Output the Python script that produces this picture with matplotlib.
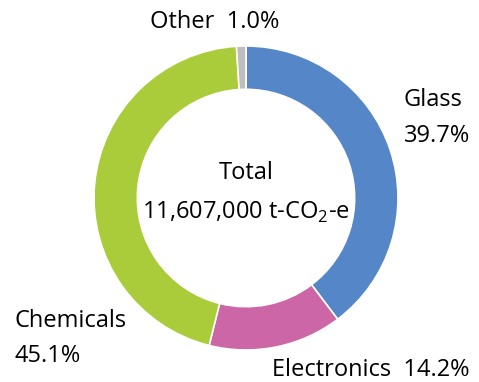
import matplotlib.pyplot as plt

sectors = ['Glass', 'Electronics', 'Chemicals', 'Other']
shares = [39.7, 14.2, 45.1, 1.0]
colors = ['#5486C8', '#CC66A6', '#AACC3A', '#BDBDBD']
total_label = '11,607,000'

plt.rcParams.update({
    'font.family': ['Open Sans', 'DejaVu Sans'],
    'font.size': 17,
    'mathtext.fontset': 'custom',
    'mathtext.rm': 'Open Sans',
})

W, H = 479, 382
fig = plt.figure(figsize=(W / 100, H / 100), dpi=100)
ax = fig.add_axes([0, 0, 1, 1])

cx, cy, r = 246, H - 198, 152
ax.pie(shares, colors=colors, startangle=90, counterclock=False,
       center=(cx, cy), radius=r, frame=True,
       wedgeprops=dict(width=r * 0.285, edgecolor='white', linewidth=1.2))
ax.set_xlim(0, W)
ax.set_ylim(0, H)
ax.set_aspect('equal')
ax.axis('off')

def pct(v):
    return f'{v:.1f}%'

# labels around the ring
ax.text(150, H - 22, f'{sectors[3]}  {pct(shares[3])}', ha='left', va='center')
ax.text(404, H - 100, sectors[0], ha='left', va='center')
ax.text(404, H - 136, pct(shares[0]), ha='left', va='center')
ax.text(15, H - 321, sectors[2], ha='left', va='center')
ax.text(15, H - 356, pct(shares[2]), ha='left', va='center')
ax.text(272, H - 370, f'{sectors[1]}  {pct(shares[1])}', ha='left', va='center')

# total in the hole
ax.text(cx, H - 173, 'Total', ha='center', va='center')
ax.text(cx, H - 212, total_label + r' t-CO$_\mathrm{2}$-e', ha='center', va='center')

fig.savefig('out.png', dpi=100)
